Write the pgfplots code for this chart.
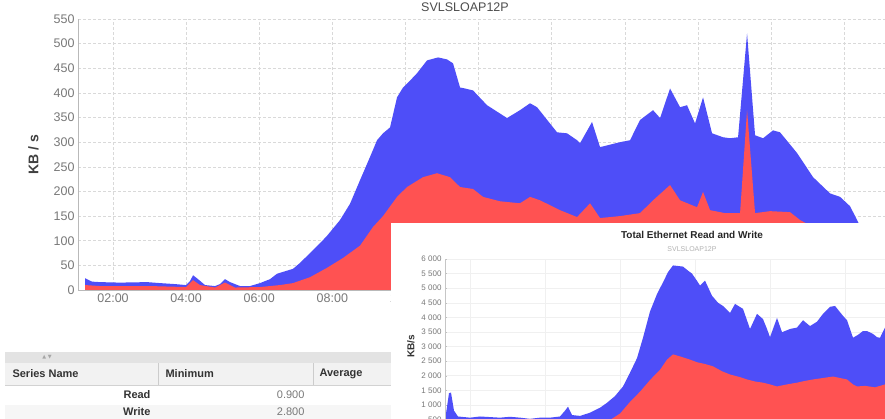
\documentclass[border=0pt]{standalone}
\usepackage{fontspec}
\setmainfont{Liberation Sans}
\newfontfamily\dejavu{DejaVu Sans}
\usepackage{pgfplots}
\pgfplotsset{compat=1.18}
\definecolor{serblue}{RGB}{78,78,248}
\definecolor{serred}{RGB}{255,82,82}
\definecolor{txtgray}{RGB}{120,120,120}
\begin{document}
\begin{tikzpicture}
\useasboundingbox (0pt,0pt) rectangle (885pt,-419pt);
\clip (0pt,0pt) rectangle (885pt,-419pt);
% ---------------- main chart ----------------
\begin{axis}[
  at={(78pt,-19pt)}, anchor=north west,
  scale only axis, width=807pt, height=271pt,
  xmin=1.042, xmax=23.12, ymin=0, ymax=550,
  axis x line*=bottom, axis y line*=left,
  axis line style={gray!55, line width=0.6pt},
  xtick={2,4,...,22},
  xticklabels={02:00,04:00,06:00,08:00,10:00,12:00,14:00,16:00,18:00,20:00,22:00},
  ytick={0,50,...,550},
  major tick length=0pt,
  grid=major,
  major grid style={gray!30, dash pattern=on 3pt off 2pt, line width=0.5pt},
  tick label style={font=\fontsize{12.5}{14}\selectfont, text=txtgray},
  /pgf/number format/assume math mode=true,
  ylabel={KB / s},
  ylabel shift=8pt,
  ylabel style={font=\bfseries\fontsize{14}{16}\selectfont, text=black!75},
]
\addplot[fill=serblue, draw=none] coordinates {
(1.234,24) (1.425,17) (1.644,16) (2.192,15) (2.930,16) (3.286,14) (3.696,12) (3.997,10)
(4.107,18) (4.189,30) (4.326,22) (4.517,10) (4.791,8) (4.928,12) (5.064,22) (5.201,16)
(5.475,8) (5.748,8) (6.022,14) (6.295,22) (6.487,33) (6.706,38) (6.925,43) (7.116,55)
(7.390,75) (7.663,95) (7.855,110) (8.210,142) (8.484,175) (8.758,223) (9.031,270) (9.223,304)
(9.387,318) (9.579,330) (9.770,391) (9.934,411) (10.126,425) (10.317,440) (10.591,466) (10.892,472)
(11.138,468) (11.302,460) (11.494,411) (11.631,409) (11.850,405) (12.233,375) (12.780,349) (13.135,365)
(13.409,379) (13.600,371) (14.148,320) (14.421,318) (14.695,304) (14.777,298) (15.105,341) (15.324,290)
(15.871,300) (16.145,304) (16.418,345) (16.774,365) (16.966,349) (17.239,409) (17.513,371) (17.704,375)
(17.923,338) (18.142,391) (18.388,318) (18.689,310) (18.881,308) (19.100,310) (19.346,521) (19.565,314)
(19.784,308) (20.057,324) (20.249,320) (20.714,278) (21.152,229) (21.617,196) (21.891,189) (22.164,170)
(22.356,142) (22.712,90) (22.985,40) (23.12,20)
} \closedcycle;
\addplot[fill=serred, draw=none] coordinates {
(1.234,10) (1.644,8) (3.012,8) (3.997,6) (4.189,20) (4.380,10) (4.791,5) (5.064,15)
(5.338,5) (6.022,6) (6.569,10) (6.925,14) (7.390,26) (7.855,45) (8.292,65) (8.758,90)
(9.114,128) (9.387,150) (9.770,189) (10.044,209) (10.481,229) (10.864,237) (11.220,229) (11.494,209)
(11.850,205) (12.123,189) (12.588,180) (13.135,176) (13.409,189) (13.683,182) (14.230,162) (14.695,148)
(15.051,176) (15.324,146) (15.871,150) (16.418,156) (16.774,182) (17.239,213) (17.513,182) (17.978,168)
(18.142,199) (18.334,162) (18.744,156) (19.155,156) (19.346,365) (19.565,156) (19.975,160) (20.522,158)
(20.796,142) (21.343,120) (22.164,90) (22.985,40) (23.12,20)
} \closedcycle;
\end{axis}
\node[font=\fontsize{12.5}{14}\selectfont, text=black!70] at (465pt,-7pt) {SVLSLOAP12P};
% ---------------- table fragment ----------------
\fill[gray!22] (5pt,-352pt) rectangle (391pt,-363pt);
\node[font=\dejavu\fontsize{5}{6}\selectfont, text=gray!70] at (47pt,-357.5pt) {▲ ▼};
\fill[gray!10] (5pt,-363pt) rectangle (391pt,-385pt);
\draw[gray!35] (5pt,-385pt) -- (391pt,-385pt);
\draw[gray!40] (158pt,-363pt) -- (158pt,-385pt);
\draw[gray!40] (313pt,-363pt) -- (313pt,-385pt);
\fill[gray!7] (5pt,-405pt) rectangle (391pt,-419pt);
\node[font=\bfseries\fontsize{11}{13}\selectfont, text=black!80, anchor=west] at (9pt,-374pt) {Series Name};
\node[font=\bfseries\fontsize{11}{13}\selectfont, text=black!80, anchor=west] at (162pt,-374pt) {Minimum};
\node[font=\bfseries\fontsize{11}{13}\selectfont, text=black!80, anchor=west] at (316pt,-374pt) {Average};
\node[font=\bfseries\fontsize{11}{13}\selectfont, text=black!80, anchor=east] at (154pt,-395pt) {Read};
\node[font=\bfseries\fontsize{11}{13}\selectfont, text=black!80, anchor=east] at (154pt,-412pt) {Write};
\node[font=\fontsize{11}{13}\selectfont, text=txtgray, anchor=east] at (308pt,-395pt) {0.900};
\node[font=\fontsize{11}{13}\selectfont, text=txtgray, anchor=east] at (308pt,-412pt) {2.800};
% ---------------- inset window ----------------
\fill[white] (391pt,-223pt) rectangle (885pt,-419pt);
\node[font=\bfseries\fontsize{10}{12}\selectfont, text=black!85] at (692pt,-235pt) {Total Ethernet Read and Write};
\node[font=\fontsize{7}{8}\selectfont, text=gray!60] at (692pt,-249pt) {SVLSLOAP12P};
\begin{axis}[
  at={(445pt,-259pt)}, anchor=north west,
  scale only axis, width=440pt, height=175pt,
  xmin=445, xmax=885, ymin=0, ymax=6000,
  axis x line*=bottom, axis y line*=left,
  axis line style={gray!45, line width=0.6pt},
  ytick={500,1000,...,6000},
  xtick={470,545,620,695,770,845}, xticklabels={},
  scaled y ticks=false,
  grid=major, major grid style={gray!12, line width=0.4pt},
  major tick length=2pt, tick style={gray!50},
  yticklabel style={font=\fontsize{8}{9}\selectfont, text=txtgray},
  /pgf/number format/assume math mode=true,
  /pgf/number format/1000 sep={\ },
  ylabel={KB/s},
  ylabel style={font=\bfseries\fontsize{10}{12}\selectfont, text=black!80},
]
\addplot[fill=serblue, draw=none] coordinates {
(446,700) (449,1400) (451,1420) (454,800) (458,600) (470,560) (480,600) (490,580)
(500,560) (510,590) (520,560) (530,520) (540,560) (550,560) (560,600) (565,800)
(568,935) (572,650) (580,620) (590,730) (600,900) (607,1070) (615,1300) (623,1630)
(630,2100) (637,2600) (643,3300) (650,4200) (657,4800) (663,5200) (668,5550) (673,5780)
(678,5760) (683,5740) (688,5600) (692,5500) (697,5250) (700,5090) (705,5260) (712,4740)
(718,4500) (723,4390) (730,4150) (735,4460) (743,4290) (750,3600) (757,4120) (763,3940)
(767,3600) (770,3320) (777,3980) (782,3490) (790,3600) (797,3650) (803,3900) (810,3700)
(817,3850) (823,4120) (830,4360) (835,4390) (843,4050) (847,3900) (853,3300) (858,3400)
(863,3530) (867,3530) (873,3430) (877,3320) (880,3300) (885,3650)
} \closedcycle;
\addplot[fill=serred, draw=none] coordinates {
(446,100) (449,200) (452,100) (470,150) (500,150) (530,120) (560,150) (568,300)
(572,150) (590,200) (600,300) (610,480) (620,700) (630,1100) (640,1450) (650,1850)
(660,2200) (667,2550) (673,2730) (680,2660) (690,2550) (697,2460) (705,2400) (713,2320)
(722,2150) (730,2040) (740,1950) (747,1870) (755,1800) (763,1760) (770,1700) (777,1630)
(787,1700) (797,1760) (805,1820) (813,1870) (823,1920) (833,1970) (840,1920) (847,1870)
(853,1700) (857,1630) (865,1650) (875,1600) (885,1700)
} \closedcycle;
\end{axis}
\end{tikzpicture}
\end{document}
